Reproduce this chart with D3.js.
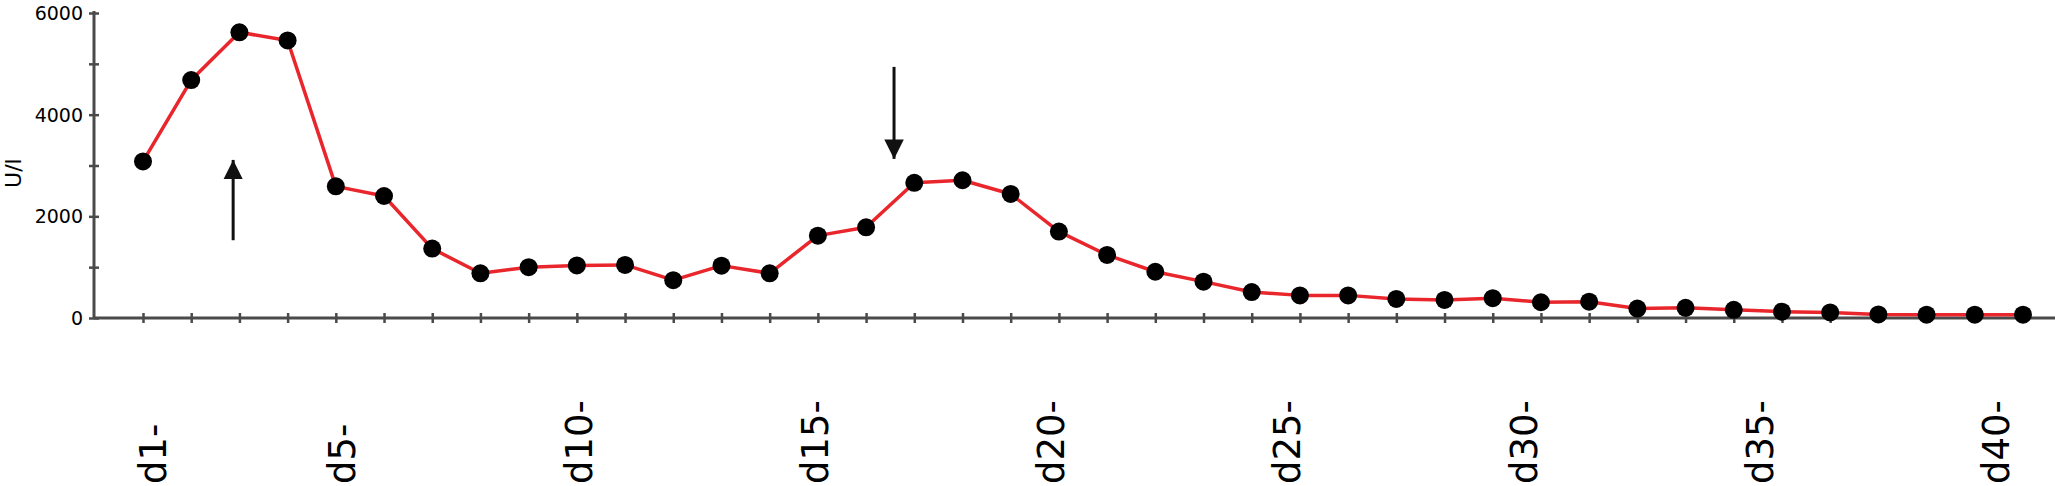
<!DOCTYPE html>
<html>
<head>
<meta charset="utf-8">
<script src="https://cdn.jsdelivr.net/npm/d3@7"></script>
<style>
    body { margin: 0; background: #fff; }
    text { font-family: "DejaVu Sans", sans-serif; fill: #000; }
</style>
</head>
<body>
<svg id="chart" width="2055" height="486"></svg>
<script>
// valeurs (U/l par jour)
let jours = d3.range(1, 41);
let valeurs = [3080, 4680, 5620, 5460, 2590, 2400, 1365, 880, 1000, 1035,
               1045, 745, 1030, 880, 1620, 1785, 2660, 2710, 2440, 1700,
               1240, 910, 715, 510, 445, 445, 375, 355, 390, 310,
               320, 185, 200, 160, 125, 110, 70, 65, 65, 65];
let joursEtiquettes = [1, 5, 10, 15, 20, 25, 30, 35, 40];
let ticksMajeurs = [0, 2000, 4000, 6000];
let ticksMineurs = [1000, 3000, 5000];
// fleches : jour, valeur depart, valeur pointe
let fleches = [
    { jour: 2.87, de: 1530, a: 3110 },
    { jour: 16.58, de: 4940, a: 3130 }
];

let svg = d3.select("#chart");
const largeur = 2055;
const axeX = 94;

let x = d3.scaleLinear().domain([1, 40]).range([143, 2023]);
let xEtiq = d3.scaleLinear().domain([1, 40]).range([153, 1996]);
let y = d3.scaleLinear().domain([0, 6000]).range([318, 13]);

const gris = "#4a4a4a";

// axe y
let axeY = svg.append("g").attr("transform", `translate(${axeX},0)`)
    .call(d3.axisLeft(y).tickValues(ticksMajeurs.concat(ticksMineurs))
        .tickSizeInner(5).tickSizeOuter(0).tickFormat(""));
axeY.select(".domain").remove();
axeY.selectAll(".tick line").attr("x1", -5).attr("x2", 5)
    .attr("stroke", gris).attr("stroke-width", 2.5);
svg.append("line")
    .attr("x1", axeX).attr("x2", axeX)
    .attr("y1", y(0)).attr("y2", y(6000) - 2)
    .attr("stroke", gris).attr("stroke-width", 3);

svg.append("g").selectAll("text").data(ticksMajeurs).enter().append("text")
    .attr("x", 83).attr("y", (d) => y(d)).attr("dy", "0.36em")
    .attr("text-anchor", "end").style("font-size", "19px")
    .text((d) => d);

svg.append("text")
    .attr("transform", `translate(13,${y(2850)}) rotate(-90)`)
    .attr("text-anchor", "middle").attr("dy", "0.36em")
    .style("font-size", "22px").text("U/l");

// axe x
let axeBas = svg.append("g").attr("transform", `translate(0,${y(0)})`)
    .call(d3.axisBottom(x).tickValues(jours).tickSizeInner(5).tickSizeOuter(0).tickFormat(""));
axeBas.select(".domain").remove();
axeBas.selectAll(".tick line").attr("y1", -5).attr("y2", 5)
    .attr("stroke", gris).attr("stroke-width", 2.5);
svg.append("line")
    .attr("x1", axeX).attr("x2", largeur)
    .attr("y1", y(0)).attr("y2", y(0))
    .attr("stroke", gris).attr("stroke-width", 3);

svg.append("g").selectAll("text").data(joursEtiquettes).enter().append("text")
    .attr("transform", (d) => `translate(${xEtiq(d)},484) rotate(-90)`)
    .attr("text-anchor", "start").attr("dy", "0.36em")
    .style("font-size", "37px")
    .text((d) => "d" + d + "-");

// courbe
let points = jours.map((j, i) => ({ jour: j, val: valeurs[i] }));
let ligne = d3.line().x((d) => x(d.jour)).y((d) => y(d.val));

svg.append("path").datum(points)
    .attr("d", ligne)
    .attr("fill", "none")
    .attr("stroke", "#e8262b")
    .attr("stroke-width", 3.5)
    .attr("stroke-linejoin", "round");

svg.append("g").selectAll("circle").data(points).enter().append("circle")
    .attr("cx", (d) => x(d.jour)).attr("cy", (d) => y(d.val))
    .attr("r", 9).attr("fill", "#000");

// fleches
svg.append("defs").append("marker")
    .attr("id", "pointe").attr("viewBox", "0 0 10 10")
    .attr("refX", 10).attr("refY", 5)
    .attr("markerWidth", 6.5).attr("markerHeight", 11)
    .attr("markerUnits", "strokeWidth")
    .attr("orient", "auto")
    .append("path").attr("d", "M0,0 L10,5 L0,10 Z").attr("fill", "#111");

svg.append("g").selectAll("line").data(fleches).enter().append("line")
    .attr("x1", (d) => x(d.jour)).attr("x2", (d) => x(d.jour))
    .attr("y1", (d) => y(d.de)).attr("y2", (d) => y(d.a))
    .attr("stroke", "#111").attr("stroke-width", 3)
    .attr("marker-end", "url(#pointe)");
</script>
</body>
</html>
